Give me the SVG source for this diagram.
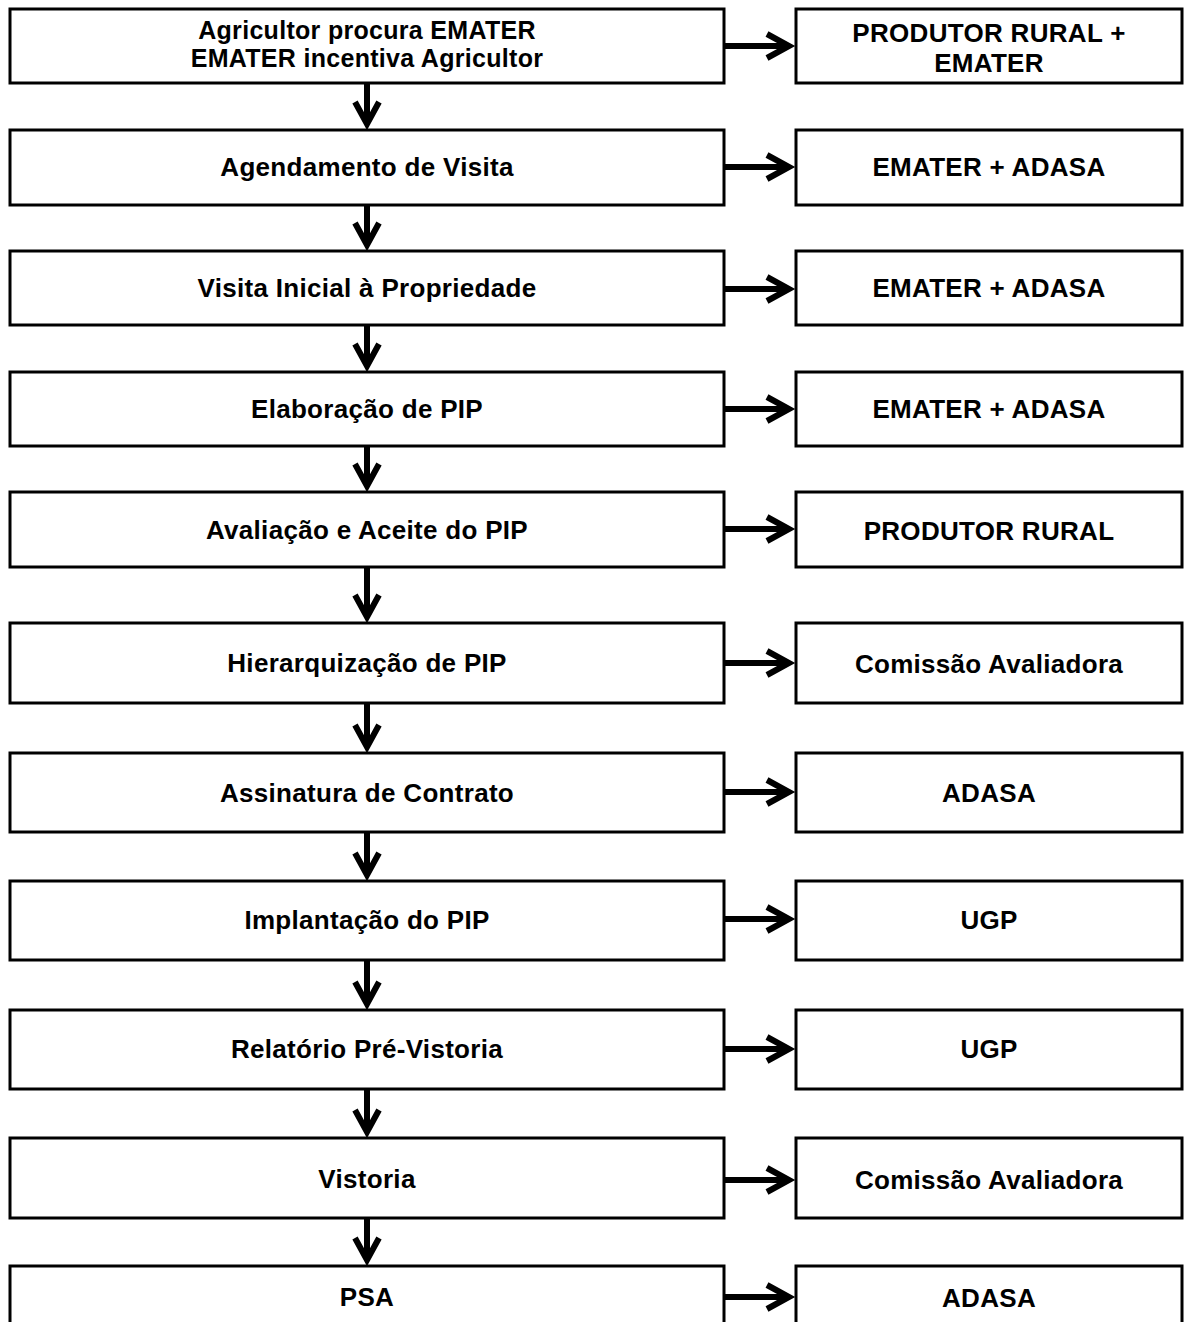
<svg xmlns="http://www.w3.org/2000/svg" width="1184" height="1322" viewBox="0 0 1184 1322">
<style>
.box{fill:#fff;stroke:#000;stroke-width:3}
.t{font-family:"Liberation Sans",Arial,sans-serif;font-weight:bold;font-size:26px;letter-spacing:0.3px;fill:#000;text-anchor:middle}
.t1{font-size:25px}
.c{stroke:#000;stroke-width:6;fill:none}
</style>
<defs>
<marker id="ah" markerUnits="userSpaceOnUse" viewBox="-30 -20 50 40" markerWidth="50" markerHeight="40" refX="-2" refY="0" orient="auto" overflow="visible">
<path d="M-22,-12 L0,0 L-22,12" fill="none" stroke="#000" stroke-width="6"/>
</marker>
</defs>
<rect width="1184" height="1322" fill="#fff"/>
<g id="connectors">
<line class="c" x1="367" y1="83" x2="367" y2="122" marker-end="url(#ah)"/>
<line class="c" x1="367" y1="205" x2="367" y2="243" marker-end="url(#ah)"/>
<line class="c" x1="367" y1="325" x2="367" y2="364" marker-end="url(#ah)"/>
<line class="c" x1="367" y1="446" x2="367" y2="484" marker-end="url(#ah)"/>
<line class="c" x1="367" y1="567" x2="367" y2="615" marker-end="url(#ah)"/>
<line class="c" x1="367" y1="703" x2="367" y2="745" marker-end="url(#ah)"/>
<line class="c" x1="367" y1="832" x2="367" y2="873" marker-end="url(#ah)"/>
<line class="c" x1="367" y1="960" x2="367" y2="1002" marker-end="url(#ah)"/>
<line class="c" x1="367" y1="1089" x2="367" y2="1130" marker-end="url(#ah)"/>
<line class="c" x1="367" y1="1218" x2="367" y2="1258" marker-end="url(#ah)"/>
<line class="c" x1="724" y1="46" x2="787" y2="46" marker-end="url(#ah)"/>
<line class="c" x1="724" y1="167" x2="787" y2="167" marker-end="url(#ah)"/>
<line class="c" x1="724" y1="289" x2="787" y2="289" marker-end="url(#ah)"/>
<line class="c" x1="724" y1="409" x2="787" y2="409" marker-end="url(#ah)"/>
<line class="c" x1="724" y1="529" x2="787" y2="529" marker-end="url(#ah)"/>
<line class="c" x1="724" y1="663" x2="787" y2="663" marker-end="url(#ah)"/>
<line class="c" x1="724" y1="792" x2="787" y2="792" marker-end="url(#ah)"/>
<line class="c" x1="724" y1="919" x2="787" y2="919" marker-end="url(#ah)"/>
<line class="c" x1="724" y1="1049" x2="787" y2="1049" marker-end="url(#ah)"/>
<line class="c" x1="724" y1="1180" x2="787" y2="1180" marker-end="url(#ah)"/>
<line class="c" x1="724" y1="1297" x2="787" y2="1297" marker-end="url(#ah)"/>
</g>
<g id="n1"><rect class="box" x="10" y="9" width="714" height="74"/><text class="t t1" x="367" y="39">Agricultor procura EMATER</text><text class="t t1" x="367" y="67">EMATER incentiva Agricultor</text></g>
<g id="r1"><rect class="box" x="796" y="9" width="386" height="74"/><text class="t" x="989" y="42">PRODUTOR RURAL +</text><text class="t" x="989" y="72">EMATER</text></g>
<g id="n2"><rect class="box" x="10" y="130" width="714" height="75"/><text class="t" x="367" y="176">Agendamento de Visita</text></g>
<g id="r2"><rect class="box" x="796" y="130" width="386" height="75"/><text class="t" x="989" y="176">EMATER + ADASA</text></g>
<g id="n3"><rect class="box" x="10" y="251" width="714" height="74"/><text class="t" x="367" y="297">Visita Inicial à Propriedade</text></g>
<g id="r3"><rect class="box" x="796" y="251" width="386" height="74"/><text class="t" x="989" y="297">EMATER + ADASA</text></g>
<g id="n4"><rect class="box" x="10" y="372" width="714" height="74"/><text class="t" x="367" y="418">Elaboração de PIP</text></g>
<g id="r4"><rect class="box" x="796" y="372" width="386" height="74"/><text class="t" x="989" y="418">EMATER + ADASA</text></g>
<g id="n5"><rect class="box" x="10" y="492" width="714" height="75"/><text class="t" x="367" y="539">Avaliação e Aceite do PIP</text></g>
<g id="r5"><rect class="box" x="796" y="492" width="386" height="75"/><text class="t" x="989" y="540">PRODUTOR RURAL</text></g>
<g id="n6"><rect class="box" x="10" y="623" width="714" height="80"/><text class="t" x="367" y="672">Hierarquização de PIP</text></g>
<g id="r6"><rect class="box" x="796" y="623" width="386" height="80"/><text class="t" x="989" y="673">Comissão Avaliadora</text></g>
<g id="n7"><rect class="box" x="10" y="753" width="714" height="79"/><text class="t" x="367" y="802">Assinatura de Contrato</text></g>
<g id="r7"><rect class="box" x="796" y="753" width="386" height="79"/><text class="t" x="989" y="802">ADASA</text></g>
<g id="n8"><rect class="box" x="10" y="881" width="714" height="79"/><text class="t" x="367" y="929">Implantação do PIP</text></g>
<g id="r8"><rect class="box" x="796" y="881" width="386" height="79"/><text class="t" x="989" y="929">UGP</text></g>
<g id="n9"><rect class="box" x="10" y="1010" width="714" height="79"/><text class="t" x="367" y="1058">Relatório Pré-Vistoria</text></g>
<g id="r9"><rect class="box" x="796" y="1010" width="386" height="79"/><text class="t" x="989" y="1058">UGP</text></g>
<g id="n10"><rect class="box" x="10" y="1138" width="714" height="80"/><text class="t" x="367" y="1188">Vistoria</text></g>
<g id="r10"><rect class="box" x="796" y="1138" width="386" height="80"/><text class="t" x="989" y="1189">Comissão Avaliadora</text></g>
<g id="n11"><rect class="box" x="10" y="1266" width="714" height="80"/><text class="t" x="367" y="1306">PSA</text></g>
<g id="r11"><rect class="box" x="796" y="1266" width="386" height="80"/><text class="t" x="989" y="1307">ADASA</text></g>
</svg>
